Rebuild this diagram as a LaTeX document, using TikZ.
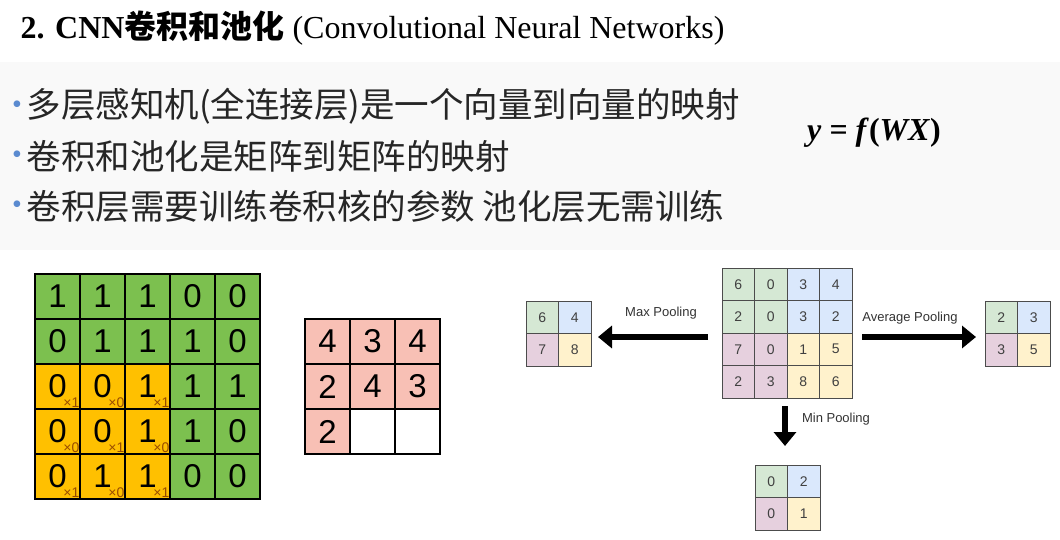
\documentclass[tikz,border=0pt]{standalone}
\usepackage{fontspec}
\setmainfont{Liberation Serif}
\newfontfamily\cjk{Noto Sans CJK SC}
\newfontfamily\lsans{Liberation Sans}
\usetikzlibrary{arrows.meta}
\definecolor{cg}{HTML}{7CC04F}
\definecolor{co}{HTML}{FFC000}
\definecolor{cp}{HTML}{F8C0B5}
\definecolor{pg}{HTML}{D5E8D4}
\definecolor{pb}{HTML}{DAE8FC}
\definecolor{pp}{HTML}{E6D0DE}
\definecolor{py}{HTML}{FFF2CC}
\definecolor{bul}{HTML}{5B8BD0}
\tikzset{
 bigcell/.style={draw=black,line width=1.2pt,minimum size=45pt,inner sep=0pt,font=\lsans\fontsize{33}{33}\selectfont},
 smcell/.style={draw=black!70,line width=0.6pt,minimum size=32.5pt,inner sep=0pt,font=\lsans\fontsize{14}{14}\selectfont,text=black!75},
 sub/.style={font=\lsans\fontsize{14}{14}\selectfont,text=orange!60!black,inner sep=0pt},
 fat/.style={line width=6pt,-{Triangle[length=14pt,width=22pt]}},
 plabel/.style={font=\lsans\fontsize{13}{13}\selectfont,text=black!80},
 bullet/.style={anchor=west,font=\cjk\fontsize{34.5}{34.5}\selectfont,text=black!85}
}
\begin{document}
\begin{tikzpicture}[x=1pt,y=-1pt]
\useasboundingbox[fill=white] (0,0) rectangle (1060,540);
\fill[black!2.5] (0,62) rectangle (1060,250);
\node[anchor=west,font=\fontsize{32}{32}\selectfont] (title) at (17,28)
 {\textbf{2. CNN{\cjk 卷积和池化}} (Convolutional Neural Networks)};
\foreach \t [count=\i] in {多层感知机(全连接层)是一个向量到向量的映射,卷积和池化是矩阵到矩阵的映射,卷积层需要训练卷积核的参数 池化层无需训练}{
 \node[text=bul,font=\fontsize{28}{28}\selectfont] (b\i) at (17,57+50*\i) {•};
 \node[bullet] (t\i) at (23,56+50*\i) {\t};
}
\node[font=\fontsize{32}{32}\selectfont] (f) at (874,133) {\textbf{\textit{y} = \textit{f}(\textit{WX})}};
% input grid
\foreach \row [count=\r] in {{1,1,1,0,0},{0,1,1,1,0},{0,0,1,1,1},{0,0,1,1,0},{0,1,1,0,0}}{
 \foreach \v [count=\c] in \row {
  \pgfmathsetmacro{\isor}{(\r>2 && \c<4)?1:0}
  \ifdim\isor pt>0.5pt
   \node[bigcell,fill=co] (g\r\c) at (35+45*\c-22.5,274+45*\r-22.5) {\v};
  \else
   \node[bigcell,fill=cg] (g\r\c) at (35+45*\c-22.5,274+45*\r-22.5) {\v};
  \fi
 }
}
\foreach \r/\c/\w in {3/1/1,3/2/0,3/3/1,4/1/0,4/2/1,4/3/0,5/1/1,5/2/0,5/3/1}
 \node[sub,anchor=south east] (s\r\c) at ([xshift=-1pt,yshift=2pt]g\r\c.south east) {×\w};
% output grid
\foreach \row [count=\r] in {{4,3,4},{2,4,3},{2,,}}{
 \foreach \v [count=\c] in \row {
  \node[bigcell,fill=cp] (o\r\c) at (305+45*\c-22.5,319+45*\r-22.5) {\v};
 }
}
\node[bigcell,fill=white] (o32) at (305+67.5,319+112.5) {};
\node[bigcell,fill=white] (o33) at (305+112.5,319+112.5) {};
% pooling input
\foreach \row [count=\r] in {{6,0,3,4},{2,0,3,2},{7,0,1,5},{2,3,8,6}}{
 \foreach \v [count=\c] in \row {
  \pgfmathtruncatemacro{\q}{(\r>2?2:0)+(\c>2?1:0)}
  \ifcase\q \def\cc{pg}\or\def\cc{pb}\or\def\cc{pp}\else\def\cc{py}\fi
  \node[smcell,fill=\cc] (p\r\c) at (722+32.5*\c-16.25,268+32.5*\r-16.25) {\v};
 }
}
% results
\foreach \n/\x/\y/\a/\b/\c/\d in {mx/526/301/6/4/7/8,av/985/301/2/3/3/5,mn/755/465/0/2/0/1}{
 \node[smcell,fill=pg] (\n1) at (\x+16.25,\y+16.25) {\a};
 \node[smcell,fill=pb] (\n2) at (\x+48.75,\y+16.25) {\b};
 \node[smcell,fill=pp] (\n3) at (\x+16.25,\y+48.75) {\c};
 \node[smcell,fill=py] (\n4) at (\x+48.75,\y+48.75) {\d};
}
\coordinate (ma) at (708,337);
\coordinate (mb) at (598,337);
\coordinate (aa) at (862,337);
\coordinate (ab) at (976,337);
\coordinate (na) at (785,406);
\coordinate (nb) at (785,446);
\draw[fat] (ma) -- (mb);
\draw[fat] (aa) -- (ab);
\draw[fat] (na) -- (nb);
\node[plabel] (lmax) at (661,313) {Max Pooling};
\node[plabel] (lavg) at (910,318) {Average Pooling};
\node[plabel] (lmin) at (836,419) {Min Pooling};
\end{tikzpicture}
\end{document}
